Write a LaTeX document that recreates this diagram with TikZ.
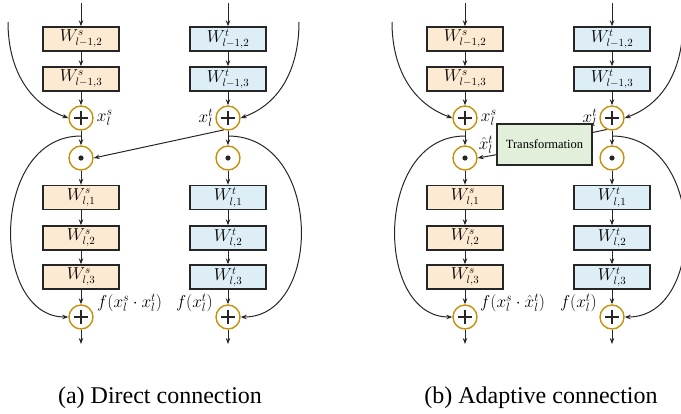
\documentclass[tikz,border=0pt]{standalone}
\usepackage{fontspec}
\setmainfont{Liberation Serif}
\usetikzlibrary{arrows.meta}

\definecolor{srcfill}{RGB}{253,234,210}
\definecolor{tgtfill}{RGB}{222,238,247}
\definecolor{opgold}{RGB}{196,146,12}
\definecolor{trfill}{RGB}{226,239,218}
\definecolor{edgegray}{RGB}{38,38,38}

\tikzset{
  wbox/.style={rectangle, draw=edgegray, line width=1.4pt, minimum width=76pt,
    minimum height=24pt, inner sep=0pt, font=\fontsize{16}{18}\selectfont},
  sbox/.style={wbox, fill=srcfill},
  tbox/.style={wbox, fill=tgtfill},
  opcirc/.style={circle, draw=opgold, line width=1.4pt, minimum size=24pt,
    inner sep=0pt, fill=white},
  addop/.style={opcirc, path picture={
      \draw[line width=1.6pt, edgegray]
        ([xshift=-7pt]path picture bounding box.center) -- ([xshift=7pt]path picture bounding box.center)
        ([yshift=-7pt]path picture bounding box.center) -- ([yshift=7pt]path picture bounding box.center);}},
  mulop/.style={opcirc, path picture={
      \fill[edgegray] (path picture bounding box.center) circle (2.6pt);}},
  arr/.style={-{Stealth[length=6pt,width=4.5pt]}, line width=1pt, draw=edgegray},
  lbl/.style={font=\fontsize{16.5}{18}\selectfont, inner sep=1pt},
  caption/.style={font=\fontsize{24}{28}\selectfont},
}

\begin{document}
\begin{tikzpicture}[x=1pt,y=1pt]
\useasboundingbox (0,0) rectangle (681,-413);

% both panels share the two residual branches
\foreach \p/\dx in {a/0,b/384}{
  % source branch
  \node[sbox] (\p s2) at (\dx+81,-39) {$W^s_{l-1,2}$};
  \node[sbox] (\p s3) at (\dx+81,-79) {$W^s_{l-1,3}$};
  \node[addop] (\p sa) at (\dx+81,-118) {};
  \node[mulop] (\p sm) at (\dx+81,-158) {};
  \node[sbox] (\p s4) at (\dx+81,-197.5) {$W^s_{l,1}$};
  \node[sbox] (\p s5) at (\dx+81,-238) {$W^s_{l,2}$};
  \node[sbox] (\p s6) at (\dx+81,-277) {$W^s_{l,3}$};
  \node[addop] (\p sp) at (\dx+81,-317) {};
  \coordinate (\p sin) at (\dx+81,-3);
  \coordinate (\p sfin) at (\dx+81,-344);
  \coordinate (\p sres) at (\dx+8,-22);
  \coordinate (\p sk) at (\dx+81,-136);
  % target branch
  \node[tbox] (\p t2) at (\dx+228,-39) {$W^t_{l-1,2}$};
  \node[tbox] (\p t3) at (\dx+228,-79) {$W^t_{l-1,3}$};
  \node[addop] (\p ta) at (\dx+228,-118) {};
  \node[mulop] (\p tm) at (\dx+228,-158) {};
  \node[tbox] (\p t4) at (\dx+228,-197.5) {$W^t_{l,1}$};
  \node[tbox] (\p t5) at (\dx+228,-238) {$W^t_{l,2}$};
  \node[tbox] (\p t6) at (\dx+228,-277) {$W^t_{l,3}$};
  \node[addop] (\p tp) at (\dx+228,-317) {};
  \coordinate (\p tin) at (\dx+228,-3);
  \coordinate (\p tfin) at (\dx+228,-344);
  \coordinate (\p tres) at (\dx+299,-22);
  \coordinate (\p tk) at (\dx+228,-136);

  \draw[arr] (\p sin) -- (\p s2);
  \draw[arr] (\p s2) -- (\p s3);
  \draw[arr] (\p s3) -- (\p sa);
  \draw[arr] (\p sa) -- (\p sm);
  \draw[arr] (\p sm) -- (\p s4);
  \draw[arr] (\p s4) -- (\p s5);
  \draw[arr] (\p s5) -- (\p s6);
  \draw[arr] (\p s6) -- (\p sp);
  \draw[arr] (\p sp) -- (\p sfin);
  \draw[arr] (\p tin) -- (\p t2);
  \draw[arr] (\p t2) -- (\p t3);
  \draw[arr] (\p t3) -- (\p ta);
  \draw[arr] (\p ta) -- (\p tm);
  \draw[arr] (\p tm) -- (\p t4);
  \draw[arr] (\p t4) -- (\p t5);
  \draw[arr] (\p t5) -- (\p t6);
  \draw[arr] (\p t6) -- (\p tp);
  \draw[arr] (\p tp) -- (\p tfin);

  % skip connections
  \draw[arr] (\p sres) to[out=-90,in=160] (\p sa.west);
  \draw[arr] (\p tres) to[out=-90,in=20] (\p ta.east);
  \draw[arr] (\p sk) .. controls (\dx-10,-136) and (\dx-10,-317) .. (\p sp.west);
  \draw[arr] (\p tk) .. controls (\dx+323,-136) and (\dx+323,-317) .. (\p tp.east);

  \node[lbl, anchor=west] at ([xshift=2pt]\p sa.east) {$x_l^s$};
  \node[lbl, anchor=east] at ([xshift=-1pt]\p ta.west) {$x_l^t$};
  \node[lbl, anchor=east] at (\dx+214,-303) {$f(x_l^t)$};
}

% (a) direct connection
\draw[arr] (ata.250) -- (asm.east);
\node[lbl, anchor=west] at (96,-303) {$f(x_l^s\cdot x_l^t)$};
\node[caption] (capa) at (160,-398) {(a) Direct connection};

% (b) adaptive connection
\node[rectangle, draw=edgegray, line width=1.4pt, fill=trfill, minimum width=95pt,
  minimum height=41pt, font=\fontsize{12.5}{14}\selectfont] (trans) at (544.5,-144.5) {Transformation};
\draw[line width=1pt, edgegray] (bta.245) -- (trans.14);
\draw[arr] (trans.192) -- (bsm.east);
\node[lbl] at (486,-145) {$\hat{x}_l^t$};
\node[lbl, anchor=west] at (479,-303) {$f(x_l^s\cdot \hat{x}_l^t)$};
\node[caption] (capb) at (541,-398) {(b) Adaptive connection};
\end{tikzpicture}
\end{document}
